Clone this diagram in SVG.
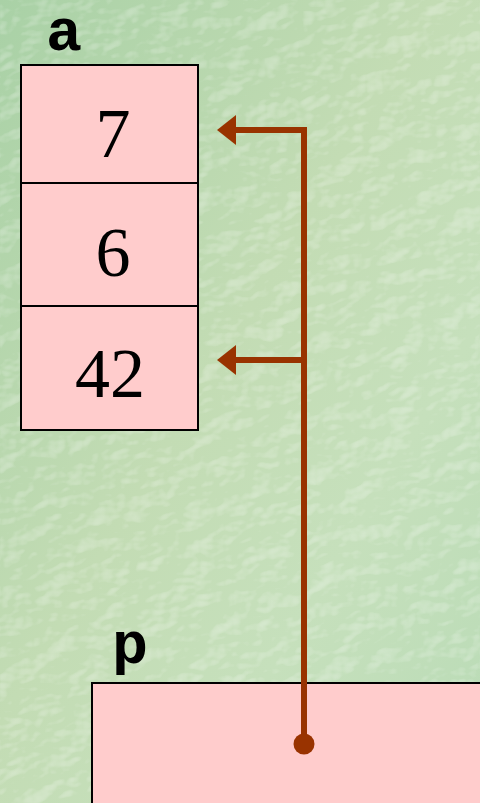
<svg xmlns="http://www.w3.org/2000/svg" width="480" height="803" viewBox="0 0 480 803">
  <defs>
    <linearGradient id="bg" x1="0" y1="0" x2="1" y2="1">
      <stop offset="0" stop-color="#a9d1a6"/>
      <stop offset="0.45" stop-color="#c3dcb4"/>
      <stop offset="0.7" stop-color="#c6e0bc"/>
      <stop offset="1" stop-color="#b9dbb6"/>
    </linearGradient>
    <filter id="tex" x="0" y="0" width="100%" height="100%" color-interpolation-filters="sRGB">
      <feTurbulence type="fractalNoise" baseFrequency="0.03 0.045" numOctaves="3" seed="7" result="n"/>
      <feDiffuseLighting in="n" surfaceScale="6" lighting-color="#ffffff" result="l">
        <feDistantLight azimuth="225" elevation="45"/>
      </feDiffuseLighting>
      <feColorMatrix in="l" type="matrix" values="0 0 0 0 1  0 0 0 0 1  0 0 0 0 1  1.6 0 0 0 -1.05"/>
    </filter>
    <style>
      .cell { fill: #ffcccc; stroke: #000; stroke-width: 2; }
      .num { font-family: 'Liberation Serif', 'Times New Roman', serif; font-size: 70px; fill: #000; text-anchor: middle; }
      .lbl { font-family: 'Liberation Mono', 'Courier New', monospace; font-weight: bold; font-size: 60px; fill: #000; }
      .conn { stroke: #993300; stroke-width: 6; fill: none; }
    </style>
  </defs>

  <rect x="0" y="0" width="480" height="803" fill="url(#bg)"/>
  <rect x="0" y="0" width="480" height="803" fill="#fff" filter="url(#tex)" opacity="0.5"/>

  <g id="array-a">
    <text class="lbl" x="46" y="50" font-size="52">a</text>
    <rect class="cell" x="21" y="65" width="177" height="118"/>
    <rect class="cell" x="21" y="183" width="177" height="123"/>
    <rect class="cell" x="21" y="306" width="177" height="124"/>
    <text class="num" x="113" y="157">7</text>
    <text class="num" x="113" y="276">6</text>
    <text class="num" x="110" y="397">42</text>
  </g>

  <g id="pointer-p">
    <text class="lbl" x="112" y="663">p</text>
    <rect class="cell" x="92" y="683" width="392" height="130"/>
  </g>

  <g id="connectors">
    <path class="conn" d="M304,744 V130 H235"/>
    <path class="conn" d="M304,360 H235"/>
    <path d="M217,130 L236,115 L236,145 Z" fill="#993300"/>
    <path d="M217,360 L236,345 L236,375 Z" fill="#993300"/>
    <circle cx="304" cy="744" r="10.5" fill="#993300"/>
  </g>
</svg>
